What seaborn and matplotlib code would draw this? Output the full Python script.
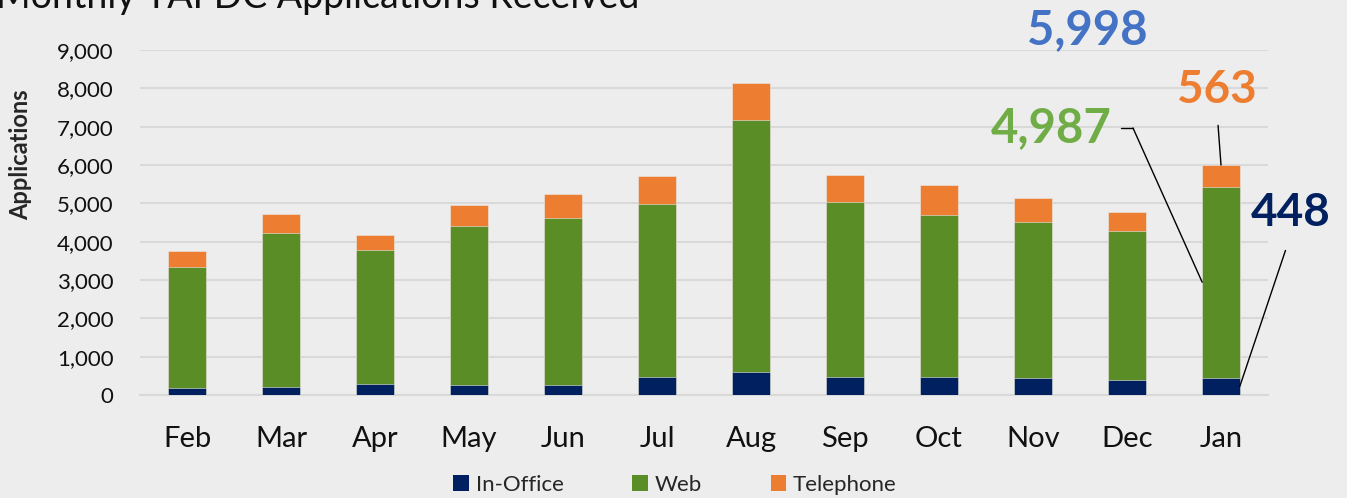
#!/usr/bin/env python3
"""
Monthly TAFDC applications received - stacked bars by channel
"""

import pandas as pd
import matplotlib.pyplot as plt
import seaborn as sns
from matplotlib.patches import Patch
from matplotlib.lines import Line2D

# Data
months = ['Feb', 'Mar', 'Apr', 'May', 'Jun', 'Jul', 'Aug', 'Sep', 'Oct', 'Nov', 'Dec', 'Jan']
in_office = [180, 205, 290, 260, 270, 475, 595, 470, 470, 435, 385, 448]
web = [3150, 4020, 3480, 4140, 4350, 4500, 6570, 4565, 4230, 4075, 3890, 4987]
telephone = [430, 505, 415, 545, 625, 730, 970, 715, 775, 630, 500, 563]
series_names = ['In-Office', 'Web', 'Telephone']

NAVY = '#002060'
GREEN = '#5B8D27'
ORANGE = '#ED7D31'
BG = '#EDEDED'
GRID = '#D9D9D9'

W, H = 1347, 498

df = pd.DataFrame({'month': months, 'in_office': in_office, 'web': web, 'telephone': telephone})
df['lvl1'] = df['in_office']
df['lvl2'] = df['in_office'] + df['web']
df['lvl3'] = df['lvl2'] + df['telephone']

sns.set_style('white')
plt.rcParams['font.family'] = ['Lato', 'DejaVu Sans']

fig = plt.figure(figsize=(W / 100, H / 100), dpi=100, facecolor=BG)
ax = fig.add_axes([140 / W, (H - 395) / H, (1268 - 140) / W, (395 - 50) / H])
ax.set_facecolor(BG)

# Stacked bars: draw cumulative totals from the top down
for col, color in [('lvl3', ORANGE), ('lvl2', GREEN), ('lvl1', NAVY)]:
    sns.barplot(data=df, x='month', y=col, color=color, width=0.4,
                saturation=1, ax=ax, zorder=3, edgecolor='#EAEAEA', linewidth=0.4)

ax.set_ylim(0, 9000)
ax.set_xlim(-0.5, len(months) - 0.5)
ax.set_yticks(range(0, 9001, 1000))
ax.set_yticklabels([f'{v:,}' for v in range(0, 9001, 1000)], fontsize=16, color='#111111')
ax.yaxis.grid(True, color=GRID, linewidth=1.5, zorder=0)
ax.set_axisbelow(True)
ax.tick_params(axis='y', length=0, pad=19)
ax.tick_params(axis='x', which='major', length=0, pad=22, labelsize=21, labelcolor='#111111')
ax.set_xticks(range(len(months)), minor=False)
ax.set_xticks([i - 0.5 for i in range(len(months) + 1)], minor=True)
ax.tick_params(axis='x', which='minor', length=7, width=1.5, color=GRID, direction='out')
for s in ['top', 'right', 'left']:
    ax.spines[s].set_visible(False)
ax.spines['bottom'].set_color(GRID)
ax.spines['bottom'].set_linewidth(1.5)
ax.set_xlabel('')
ax.set_ylabel('Applications', fontsize=17, fontweight='bold')
# label sits high on the axis in the source
ax.yaxis.set_label_coords((32 - 140) / 1128, (395 - 155) / 345)

# Title (cut off at top, as in the source)
fig.text(-4 / W, (H - 8) / H, 'Monthly TAFDC Applications Received', fontsize=27,
         color='#111111', va='baseline', ha='left')

# Legend
handles = [Patch(facecolor=c, edgecolor='none') for c in [NAVY, GREEN, ORANGE]]
fig.legend(handles, series_names, loc='center', bbox_to_anchor=(675 / W, 13 / H),
           ncol=3, frameon=False, fontsize=16, handlelength=0.7, handleheight=0.7,
           handletextpad=0.3, columnspacing=3.1)

# Callouts for the last month
last = len(months) - 1
total = in_office[last] + web[last] + telephone[last]


def fpx(x, y):
    return (x / W, (H - y) / H)


ax.annotate(f'{total:,}', xy=fpx(1087, 30), xycoords='figure fraction',
            ha='center', va='center', fontsize=34, fontweight='bold', color='#4472C4')

# web: label, short horizontal tick, then diagonal leader to the bar
ax.annotate(f'{web[last]:,}', xy=fpx(1112, 128), xycoords='figure fraction',
            ha='right', va='center', fontsize=34, fontweight='bold', color='#70AD47')
fig.add_artist(Line2D([1121 / W, 1133 / W], [(H - 128) / H, (H - 128) / H],
                      color='black', lw=1, transform=fig.transFigure))
ax.annotate('', xy=(last - 0.2, in_office[last] + web[last] / 2),
            xytext=fpx(1133, 128), textcoords='figure fraction',
            arrowprops=dict(arrowstyle='-', color='black', lw=1, shrinkA=0, shrinkB=0))

ax.annotate(f'{telephone[last]:,}', xy=(last, total),
            xytext=fpx(1217, 90), textcoords='figure fraction',
            ha='center', va='center', fontsize=33, fontweight='bold', color=ORANGE,
            arrowprops=dict(arrowstyle='-', color='black', lw=1, relpos=(0.5, 0),
                            shrinkA=8, shrinkB=0))

ax.annotate(f'{in_office[last]:,}', xy=(last + 0.2, in_office[last] / 2),
            xytext=fpx(1291, 213), textcoords='figure fraction',
            ha='center', va='center', fontsize=33, fontweight='bold', color=NAVY,
            arrowprops=dict(arrowstyle='-', color='black', lw=1, relpos=(0.5, 0),
                            shrinkA=10, shrinkB=0))

fig.savefig('out.png', dpi=100, facecolor=BG)
plt.close(fig)
